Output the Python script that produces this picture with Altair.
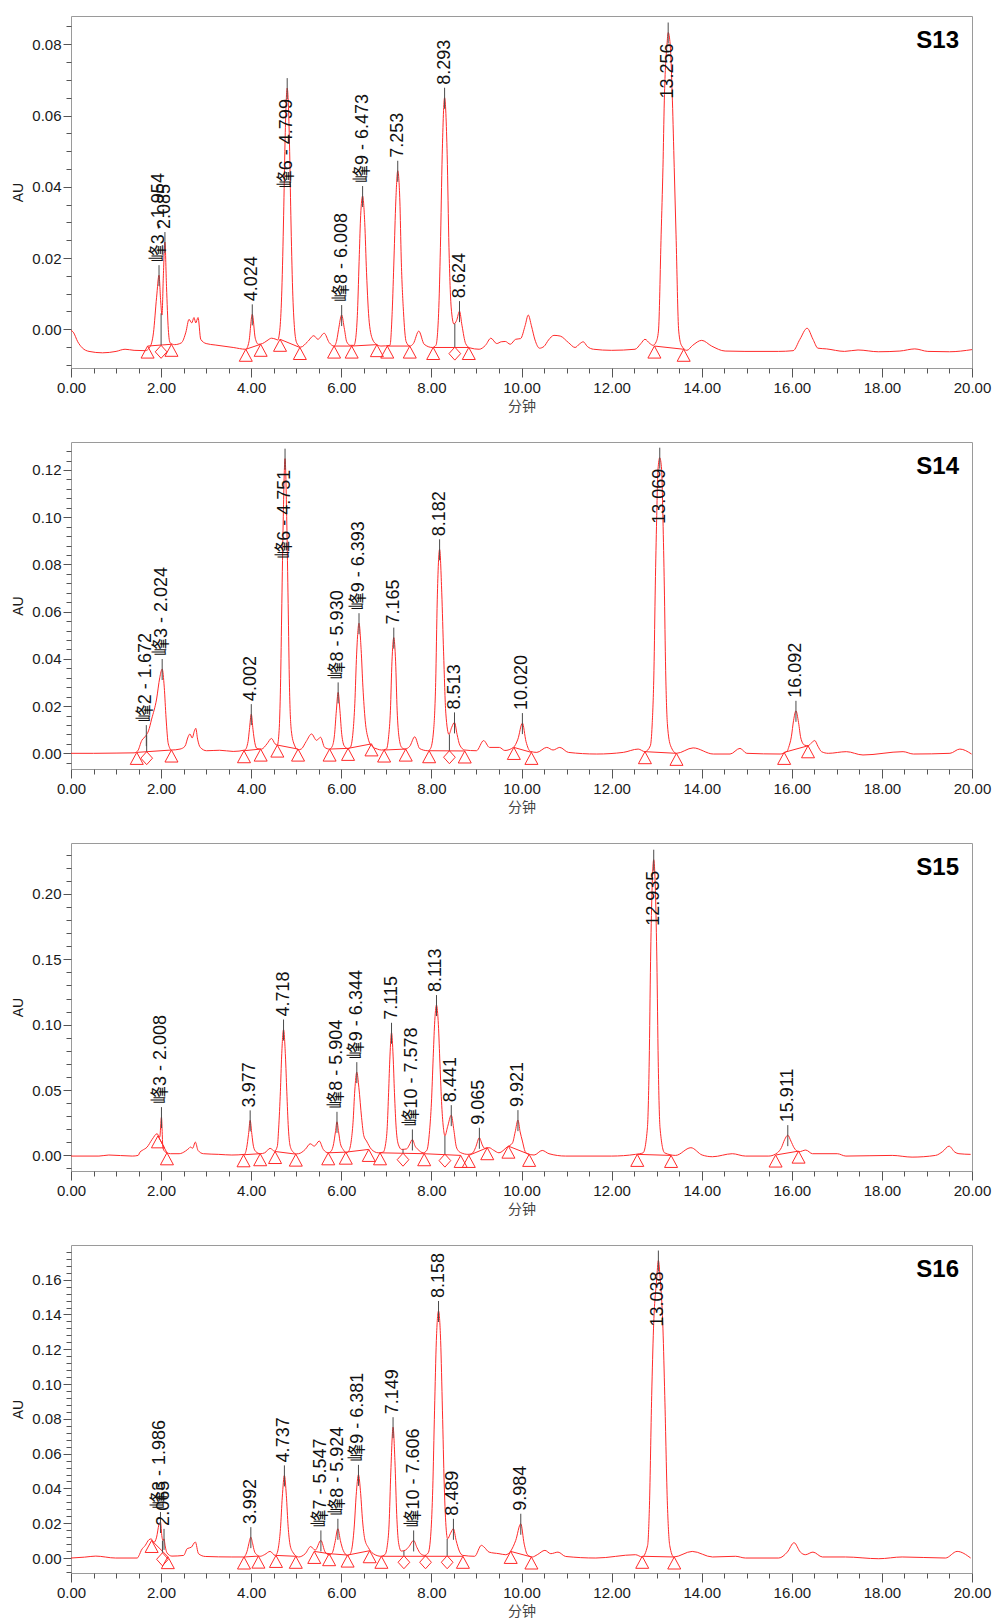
import altair as alt
import pandas as pd

FONT = "Liberation Sans, Arial, Noto Sans CJK SC, sans-serif"
CJK = "Noto Sans CJK SC, sans-serif"
RED = "#ff2a2a"
DARK = "#4a4a4a"

# ---------------- S13 ----------------
S13_TRACE = [
    (0.00, -0.0003), (0.05, -0.0008), (0.15, -0.0035), (0.25, -0.0052), (0.40, -0.0062), (0.70, -0.0066),
    (1.00, -0.0062), (1.20, -0.0056), (1.40, -0.0059), (1.65, -0.0060), (1.75, -0.0050), (1.83, -0.0010),
    (1.90, 0.0090), (1.954, 0.0152), (1.99, 0.0080), (2.02, 0.0040), (2.05, 0.0150), (2.085, 0.0245),
    (2.12, 0.0120), (2.16, 0.0000), (2.20, -0.0038), (2.30, -0.0043), (2.45, -0.0038), (2.55, -0.0008),
    (2.62, 0.0028), (2.68, 0.0018), (2.73, 0.0033), (2.77, 0.0018), (2.82, 0.0033), (2.88, -0.0028),
    (3.00, -0.0040), (3.20, -0.0044), (3.60, -0.0051), (3.88, -0.0056), (3.95, -0.0035), (4.024, 0.0042),
    (4.09, -0.0025), (4.16, -0.0042), (4.25, -0.0040), (4.35, -0.0032), (4.45, -0.0025), (4.55, -0.0028),
    (4.59, -0.0030), (4.64, 0.0005), (4.68, 0.0110), (4.72, 0.0320), (4.75, 0.0520), (4.799, 0.0677),
    (4.85, 0.0520), (4.88, 0.0320), (4.92, 0.0110), (4.96, 0.0005), (5.01, -0.0038), (5.10, -0.0050),
    (5.25, -0.0035), (5.39, -0.0018), (5.48, -0.0028), (5.62, -0.0011), (5.73, -0.0037), (5.84, -0.0047),
    (5.90, -0.0030), (5.94, 0.0000), (6.008, 0.0040), (6.07, 0.0000), (6.12, -0.0035), (6.20, -0.0045),
    (6.28, -0.0045), (6.30, -0.0040), (6.36, 0.0050), (6.40, 0.0210), (6.43, 0.0320), (6.473, 0.0374),
    (6.52, 0.0300), (6.56, 0.0160), (6.62, 0.0020), (6.70, -0.0030), (6.78, -0.0042), (6.88, -0.0047),
    (7.08, -0.0045), (7.13, 0.0050), (7.17, 0.0200), (7.21, 0.0360), (7.253, 0.0445), (7.30, 0.0360),
    (7.33, 0.0200), (7.38, 0.0050), (7.44, -0.0035), (7.52, -0.0047), (7.60, -0.0040), (7.72, -0.0005),
    (7.84, -0.0042), (8.02, -0.0051), (8.10, -0.0045), (8.16, 0.0045), (8.20, 0.0230), (8.24, 0.0490),
    (8.293, 0.0650), (8.35, 0.0490), (8.39, 0.0230), (8.44, 0.0060), (8.50, 0.0015), (8.56, 0.0025),
    (8.624, 0.0051), (8.68, 0.0010), (8.76, -0.0040), (8.85, -0.0052), (9.06, -0.0056), (9.20, -0.0045),
    (9.32, -0.0025), (9.45, -0.0040), (9.55, -0.0035), (9.64, -0.0034), (9.75, -0.0042), (9.87, -0.0028),
    (9.98, -0.0026), (10.08, 0.0010), (10.15, 0.0040), (10.22, 0.0010), (10.30, -0.0030), (10.40, -0.0053),
    (10.50, -0.0048), (10.60, -0.0030), (10.72, -0.0017), (10.86, -0.0019), (11.04, -0.0037), (11.19, -0.0051),
    (11.28, -0.0042), (11.37, -0.0035), (11.46, -0.0048), (11.60, -0.0056), (12.00, -0.0059), (12.52, -0.0056),
    (12.65, -0.0040), (12.74, -0.0028), (12.85, -0.0040), (12.92, -0.0045), (12.99, -0.0035), (13.04, -0.0005),
    (13.10, 0.0267), (13.14, 0.0454), (13.17, 0.0641), (13.23, 0.0800), (13.256, 0.0833), (13.30, 0.0800),
    (13.35, 0.0641), (13.39, 0.0454), (13.43, 0.0267), (13.49, -0.0005), (13.55, -0.0045), (13.67, -0.0059),
    (13.80, -0.0045), (14.00, -0.0031), (14.22, -0.0047), (14.52, -0.0061), (14.96, -0.0062), (15.70, -0.0062),
    (16.03, -0.0060), (16.18, -0.0028), (16.34, 0.0003), (16.47, -0.0028), (16.58, -0.0053), (16.77, -0.0055),
    (17.17, -0.0062), (17.47, -0.0058), (17.92, -0.0063), (18.40, -0.0061), (18.73, -0.0055), (19.02, -0.0062),
    (19.50, -0.0063), (20.00, -0.0057),
]
S13_PEAKS = [
    ("峰3 - 1.954", 1.954, 0.0152), ("2.085", 2.085, 0.0245), ("4.024", 4.024, 0.0042),
    ("峰6 - 4.799", 4.799, 0.0677), ("峰8 - 6.008", 6.008, 0.0040), ("峰9 - 6.473", 6.473, 0.0374),
    ("7.253", 7.253, 0.0445), ("8.293", 8.293, 0.0650), ("8.624", 8.624, 0.0051), ("13.256", 13.256, 0.0833),
]
S13_MARKS = [
    (1.70, -0.0047, "tri"), (2.00, -0.0045, "dia"), (2.23, -0.0042, "tri"), (3.88, -0.0056, "tri"),
    (4.21, -0.0042, "tri"), (4.64, -0.0028, "tri"), (5.08, -0.0051, "tri"), (5.84, -0.0047, "tri"),
    (6.23, -0.0047, "tri"), (6.79, -0.0043, "tri"), (7.02, -0.0047, "tri"), (7.52, -0.0047, "tri"),
    (8.04, -0.0051, "tri"), (8.52, -0.0050, "dia"), (8.83, -0.0051, "tri"), (12.95, -0.0047, "tri"),
    (13.60, -0.0056, "tri"),
]
S13_BASELINES = [(1.70, 2.23), (3.88, 4.21), (4.64, 5.08), (5.84, 6.23), (6.23, 6.79), (7.02, 7.52),
                 (8.04, 8.83), (12.95, 13.60)]
S13_DROPS = [(2.00, 0.0045), (8.52, 0.0016)]

# ---------------- S14 ----------------
S14_TRACE = [
    (0.00, 0.0000), (0.50, 0.0000), (1.00, 0.0001), (1.40, 0.0002), (1.48, 0.0010), (1.57, 0.0054),
    (1.672, 0.0077), (1.72, 0.0095), (1.79, 0.0145), (1.90, 0.0230), (1.97, 0.0320), (2.024, 0.0357),
    (2.07, 0.0280), (2.11, 0.0150), (2.16, 0.0040), (2.23, 0.0014), (2.42, 0.0018), (2.53, 0.0030),
    (2.60, 0.0070), (2.64, 0.0082), (2.69, 0.0065), (2.74, 0.0095), (2.77, 0.0106), (2.81, 0.0060),
    (2.87, 0.0025), (3.01, 0.0011), (3.30, 0.0013), (3.60, 0.0008), (3.86, 0.0014), (3.93, 0.0050),
    (3.96, 0.0100), (4.002, 0.0166), (4.04, 0.0100), (4.08, 0.0045), (4.13, 0.0020), (4.23, 0.0018),
    (4.35, 0.0040), (4.45, 0.0063), (4.53, 0.0040), (4.58, 0.0035), (4.62, 0.0097), (4.65, 0.0280),
    (4.68, 0.0635), (4.71, 0.0980), (4.751, 0.1248), (4.79, 0.0980), (4.82, 0.0635), (4.85, 0.0280),
    (4.89, 0.0097), (4.96, 0.0035), (5.04, 0.0015), (5.11, 0.0018), (5.22, 0.0050), (5.34, 0.0082),
    (5.45, 0.0055), (5.54, 0.0068), (5.63, 0.0025), (5.74, 0.0018), (5.80, 0.0030), (5.85, 0.0080),
    (5.89, 0.0180), (5.930, 0.0258), (5.97, 0.0180), (6.01, 0.0080), (6.07, 0.0030), (6.15, 0.0020),
    (6.20, 0.0025), (6.26, 0.0090), (6.30, 0.0210), (6.34, 0.0420), (6.393, 0.0551), (6.44, 0.0440),
    (6.48, 0.0280), (6.53, 0.0140), (6.60, 0.0060), (6.68, 0.0030), (6.80, 0.0018), (6.89, 0.0014),
    (7.00, 0.0018), (7.05, 0.0070), (7.09, 0.0180), (7.125, 0.0390), (7.165, 0.0490), (7.205, 0.0390),
    (7.24, 0.0180), (7.28, 0.0070), (7.34, 0.0025), (7.41, 0.0018), (7.52, 0.0030), (7.63, 0.0070),
    (7.74, 0.0020), (7.92, 0.0011), (7.98, 0.0020), (8.05, 0.0100), (8.095, 0.0300), (8.13, 0.0650),
    (8.182, 0.0864), (8.23, 0.0680), (8.27, 0.0430), (8.32, 0.0170), (8.39, 0.0080), (8.45, 0.0110),
    (8.513, 0.0131), (8.57, 0.0080), (8.63, 0.0035), (8.74, 0.0014), (9.00, 0.0011), (9.16, 0.0054),
    (9.29, 0.0025), (9.51, 0.0025), (9.63, 0.0012), (9.82, 0.0025), (9.92, 0.0060), (10.020, 0.0128),
    (10.10, 0.0050), (10.20, 0.0008), (10.34, 0.0004), (10.56, 0.0025), (10.70, 0.0014), (10.85, 0.0025),
    (11.04, 0.0004), (11.67, -0.0003), (12.26, 0.0004), (12.59, 0.0018), (12.74, 0.0007), (12.86, 0.0032),
    (12.90, 0.0120), (12.94, 0.0350), (12.97, 0.0709), (13.00, 0.0991), (13.03, 0.1203), (13.069, 0.1252),
    (13.11, 0.1203), (13.14, 0.0991), (13.17, 0.0709), (13.20, 0.0350), (13.24, 0.0120), (13.31, 0.0032),
    (13.44, 0.0000), (13.81, 0.0023), (14.26, -0.0003), (14.63, -0.0003), (14.85, 0.0021), (15.00, 0.0000),
    (15.74, -0.0003), (15.90, 0.0010), (15.93, 0.0025), (15.99, 0.0070), (16.04, 0.0140), (16.092, 0.0180),
    (16.15, 0.0130), (16.20, 0.0065), (16.28, 0.0035), (16.36, 0.0032), (16.44, 0.0045), (16.51, 0.0054),
    (16.58, 0.0030), (16.66, 0.0007), (16.81, 0.0000), (17.21, 0.0007), (17.58, -0.0007), (18.47, 0.0007),
    (18.70, -0.0003), (19.51, 0.0000), (19.73, 0.0018), (19.99, -0.0003),
]
S14_PEAKS = [
    ("峰2 - 1.672", 1.672, 0.0077), ("峰3 - 2.024", 2.024, 0.0357), ("4.002", 4.002, 0.0166),
    ("峰6 - 4.751", 4.751, 0.1248), ("峰8 - 5.930", 5.930, 0.0258), ("峰9 - 6.393", 6.393, 0.0551),
    ("7.165", 7.165, 0.0490), ("8.182", 8.182, 0.0864), ("8.513", 8.513, 0.0131), ("10.020", 10.020, 0.0128),
    ("13.069", 13.069, 0.1252), ("16.092", 16.092, 0.0180),
]
S14_MARKS = [
    (1.46, 0.0004, "tri"), (1.68, 0.0007, "dia"), (2.23, 0.0014, "tri"), (3.84, 0.0011, "tri"),
    (4.21, 0.0018, "tri"), (4.58, 0.0035, "tri"), (5.04, 0.0018, "tri"), (5.74, 0.0018, "tri"),
    (6.15, 0.0021, "tri"), (6.67, 0.0040, "tri"), (6.95, 0.0014, "tri"), (7.43, 0.0018, "tri"),
    (7.95, 0.0011, "tri"), (8.40, 0.0011, "dia"), (8.74, 0.0010, "tri"), (9.83, 0.0025, "tri"),
    (10.22, 0.0004, "tri"), (12.74, 0.0007, "tri"), (13.44, 0.0000, "tri"), (15.83, 0.0004, "tri"),
    (16.36, 0.0032, "tri"),
]
S14_BASELINES = [(1.46, 2.23), (3.84, 4.21), (4.58, 5.04), (5.74, 6.15), (6.15, 6.67), (6.95, 7.43),
                 (7.95, 8.74), (9.83, 10.22), (12.74, 13.44), (15.83, 16.36)]
S14_DROPS = [(1.68, 0.0077), (8.40, 0.0080)]

# ---------------- S15 ----------------
S15_TRACE = [
    (0.00, -0.0005), (0.62, -0.0005), (0.84, 0.0003), (1.36, -0.0005), (1.49, 0.0000), (1.53, 0.0025),
    (1.58, 0.0038), (1.69, 0.0064), (1.80, 0.0122), (1.91, 0.0166), (1.97, 0.0140), (2.008, 0.0293),
    (2.04, 0.0060), (2.08, 0.0030), (2.13, 0.0020), (2.21, 0.0013), (2.40, 0.0013), (2.54, 0.0033),
    (2.62, 0.0055), (2.65, 0.0064), (2.70, 0.0055), (2.76, 0.0102), (2.82, 0.0038), (2.94, 0.0013),
    (3.28, 0.0008), (3.57, 0.0003), (3.85, 0.0008), (3.90, 0.0060), (3.94, 0.0160), (3.977, 0.0268),
    (4.015, 0.0160), (4.05, 0.0070), (4.10, 0.0030), (4.20, 0.0013), (4.30, 0.0020), (4.42, 0.0054),
    (4.52, 0.0033), (4.58, 0.0070), (4.61, 0.0210), (4.648, 0.0490), (4.676, 0.0760), (4.718, 0.0963),
    (4.76, 0.0760), (4.79, 0.0490), (4.825, 0.0210), (4.86, 0.0080), (4.92, 0.0030), (5.00, 0.0012),
    (5.05, 0.0013), (5.20, 0.0046), (5.31, 0.0089), (5.40, 0.0071), (5.51, 0.0110), (5.60, 0.0046),
    (5.71, 0.0020), (5.78, 0.0035), (5.83, 0.0090), (5.87, 0.0180), (5.904, 0.0257), (5.94, 0.0180),
    (5.98, 0.0090), (6.04, 0.0046), (6.12, 0.0020), (6.16, 0.0030), (6.22, 0.0110), (6.26, 0.0250),
    (6.30, 0.0500), (6.344, 0.0637), (6.39, 0.0520), (6.45, 0.0290), (6.50, 0.0150), (6.56, 0.0110),
    (6.67, 0.0046), (6.82, 0.0020), (6.93, 0.0025), (6.98, 0.0080), (7.02, 0.0220), (7.05, 0.0480),
    (7.08, 0.0760), (7.115, 0.0938), (7.15, 0.0760), (7.18, 0.0480), (7.22, 0.0200), (7.27, 0.0080),
    (7.34, 0.0046), (7.45, 0.0050), (7.51, 0.0080), (7.578, 0.0122), (7.64, 0.0070), (7.70, 0.0046),
    (7.82, 0.0020), (7.90, 0.0040), (7.96, 0.0190), (8.00, 0.0400), (8.04, 0.0750), (8.07, 0.1000),
    (8.113, 0.1150), (8.155, 0.1000), (8.19, 0.0700), (8.23, 0.0380), (8.27, 0.0200), (8.30, 0.0150),
    (8.36, 0.0220), (8.441, 0.0308), (8.50, 0.0190), (8.55, 0.0070), (8.60, 0.0035), (8.66, 0.0020),
    (8.81, 0.0008), (8.92, 0.0020), (8.98, 0.0060), (9.065, 0.0135), (9.13, 0.0080), (9.18, 0.0054),
    (9.28, 0.0059), (9.38, 0.0040), (9.50, 0.0020), (9.68, 0.0064), (9.80, 0.0095), (9.86, 0.0180),
    (9.921, 0.0270), (9.97, 0.0180), (10.02, 0.0110), (10.08, 0.0030), (10.13, 0.0013), (10.28, 0.0003),
    (10.46, 0.0038), (10.61, 0.0013), (10.98, -0.0005), (12.00, -0.0005), (12.53, 0.0008), (12.70, 0.0020),
    (12.795, 0.0211), (12.835, 0.0721), (12.865, 0.1485), (12.895, 0.1995), (12.935, 0.2262),
    (12.975, 0.1995), (13.005, 0.1485), (13.035, 0.0721), (13.075, 0.0211), (13.175, 0.0020),
    (13.42, 0.0000), (13.76, 0.0059), (14.01, 0.0003), (14.24, -0.0010), (14.68, 0.0013), (14.97, -0.0005),
    (15.49, -0.0005), (15.68, 0.0020), (15.77, 0.0060), (15.84, 0.0120), (15.911, 0.0155), (15.98, 0.0110),
    (16.05, 0.0059), (16.16, 0.0028), (16.31, 0.0041), (16.46, 0.0013), (17.01, 0.0013), (17.20, -0.0005),
    (18.23, 0.0000), (18.67, -0.0013), (19.19, 0.0000), (19.35, 0.0030), (19.49, 0.0071), (19.62, 0.0025),
    (19.71, 0.0013), (19.97, 0.0008),
]
S15_PEAKS = [
    ("峰3 - 2.008", 2.008, 0.0293), ("3.977", 3.977, 0.0268), ("4.718", 4.718, 0.0963),
    ("峰8 - 5.904", 5.904, 0.0257), ("峰9 - 6.344", 6.344, 0.0637), ("7.115", 7.115, 0.0938),
    ("峰10 - 7.578", 7.578, 0.0122), ("8.113", 8.113, 0.1150), ("8.441", 8.441, 0.0308),
    ("9.065", 9.065, 0.0135), ("9.921", 9.921, 0.0270), ("12.935", 12.935, 0.2262), ("15.911", 15.911, 0.0155),
]
S15_MARKS = [
    (1.93, 0.0150, "tri"), (2.13, 0.0020, "tri"), (3.83, 0.0005, "tri"), (4.20, 0.0013, "tri"),
    (4.53, 0.0030, "tri"), (4.99, 0.0010, "tri"), (5.71, 0.0020, "tri"), (6.10, 0.0025, "tri"),
    (6.61, 0.0046, "tri"), (6.86, 0.0020, "tri"), (7.37, 0.0017, "dia"), (7.84, 0.0013, "tri"),
    (8.30, 0.0010, "dia"), (8.65, 0.0000, "tri"), (8.83, 0.0000, "tri"), (9.24, 0.0059, "tri"),
    (9.71, 0.0071, "tri"), (10.17, 0.0008, "tri"), (12.57, 0.0008, "tri"), (13.32, 0.0000, "tri"),
    (15.64, 0.0003, "tri"), (16.15, 0.0033, "tri"),
]
S15_BASELINES = [(1.93, 2.13), (3.83, 4.20), (4.53, 4.99), (5.71, 6.10), (6.10, 6.61), (6.86, 7.84),
                 (7.84, 8.65), (8.83, 9.24), (9.71, 10.17), (12.57, 13.32), (15.64, 16.15)]
S15_DROPS = [(7.37, 0.0046), (8.30, 0.0150)]

# ---------------- S16 ----------------
S16_TRACE = [
    (0.00, 0.0000), (0.30, 0.0005), (0.55, 0.0011), (0.99, 0.0000), (1.47, 0.0000), (1.52, 0.0020),
    (1.56, 0.0044), (1.65, 0.0073), (1.73, 0.0105), (1.78, 0.0110), (1.84, 0.0090), (1.90, 0.0120),
    (1.95, 0.0190), (1.986, 0.0207), (2.02, 0.0120), (2.045, 0.0100), (2.065, 0.0110), (2.09, 0.0070),
    (2.13, 0.0030), (2.24, 0.0011), (2.50, 0.0015), (2.58, 0.0054), (2.67, 0.0062), (2.76, 0.0092),
    (2.83, 0.0025), (2.98, 0.0009), (3.57, 0.0006), (3.83, 0.0006), (3.87, 0.0015), (3.92, 0.0050),
    (3.95, 0.0085), (3.992, 0.0120), (4.03, 0.0085), (4.07, 0.0040), (4.12, 0.0020), (4.20, 0.0010),
    (4.30, 0.0020), (4.42, 0.0038), (4.53, 0.0015), (4.57, 0.0025), (4.61, 0.0070), (4.65, 0.0170),
    (4.69, 0.0350), (4.737, 0.0475), (4.78, 0.0360), (4.82, 0.0180), (4.86, 0.0080), (4.92, 0.0035),
    (5.05, 0.0006), (5.20, 0.0025), (5.32, 0.0066), (5.42, 0.0045), (5.547, 0.0101), (5.64, 0.0035),
    (5.73, 0.0018), (5.80, 0.0030), (5.86, 0.0090), (5.924, 0.0168), (5.98, 0.0100), (6.04, 0.0045),
    (6.14, 0.0015), (6.20, 0.0025), (6.25, 0.0080), (6.29, 0.0190), (6.33, 0.0360), (6.381, 0.0478),
    (6.43, 0.0370), (6.47, 0.0220), (6.52, 0.0110), (6.60, 0.0060), (6.71, 0.0025), (6.88, 0.0010),
    (6.97, 0.0020), (7.02, 0.0070), (7.06, 0.0190), (7.10, 0.0500), (7.149, 0.0752), (7.19, 0.0560),
    (7.23, 0.0250), (7.27, 0.0090), (7.33, 0.0040), (7.42, 0.0045), (7.50, 0.0065), (7.606, 0.0101),
    (7.68, 0.0060), (7.76, 0.0025), (7.85, 0.0015), (7.93, 0.0030), (7.99, 0.0150), (8.03, 0.0400),
    (8.07, 0.0850), (8.11, 0.1250), (8.158, 0.1420), (8.205, 0.1250), (8.245, 0.0850), (8.285, 0.0420),
    (8.33, 0.0160), (8.36, 0.0110), (8.42, 0.0140), (8.489, 0.0168), (8.55, 0.0100), (8.62, 0.0040),
    (8.70, 0.0015), (8.96, 0.0010), (9.11, 0.0073), (9.17, 0.0063), (9.28, 0.0034), (9.50, 0.0025),
    (9.65, 0.0019), (9.76, 0.0040), (9.87, 0.0100), (9.984, 0.0197), (10.06, 0.0080), (10.13, 0.0020),
    (10.24, 0.0006), (10.35, 0.0019), (10.52, 0.0044), (10.65, 0.0025), (10.81, 0.0034), (10.98, 0.0009),
    (11.65, 0.0000), (12.53, 0.0019), (12.68, 0.0006), (12.80, 0.0073), (12.84, 0.0300), (12.89, 0.0934),
    (12.93, 0.1317), (13.00, 0.1600), (13.038, 0.1710), (13.08, 0.1600), (13.14, 0.1317), (13.18, 0.0934),
    (13.24, 0.0300), (13.29, 0.0073), (13.38, 0.0006), (13.79, 0.0038), (14.24, 0.0006), (14.75, 0.0010),
    (14.97, 0.0000), (15.71, 0.0000), (15.90, 0.0034), (16.05, 0.0088), (16.19, 0.0034), (16.30, 0.0019),
    (16.47, 0.0034), (16.68, 0.0006), (17.19, 0.0006), (17.93, -0.0004), (18.45, 0.0006), (19.41, 0.0000),
    (19.67, 0.0038), (19.97, 0.0000),
]
S16_PEAKS = [
    ("峰3 - 1.986", 1.986, 0.0207), ("2.065", 2.065, 0.0110), ("3.992", 3.992, 0.0120),
    ("4.737", 4.737, 0.0475), ("峰7 - 5.547", 5.547, 0.0101), ("峰8 - 5.924", 5.924, 0.0168),
    ("峰9 - 6.381", 6.381, 0.0478), ("7.149", 7.149, 0.0752), ("峰10 - 7.606", 7.606, 0.0101),
    ("8.158", 8.158, 0.1420), ("8.489", 8.489, 0.0168), ("9.984", 9.984, 0.0197), ("13.038", 13.038, 0.1710),
]
S16_MARKS = [
    (1.79, 0.0101, "tri"), (2.03, 0.0030, "dia"), (2.15, 0.0008, "tri"), (3.84, 0.0006, "tri"),
    (4.16, 0.0011, "tri"), (4.55, 0.0015, "tri"), (4.99, 0.0010, "tri"), (5.40, 0.0038, "tri"),
    (5.73, 0.0025, "tri"), (6.14, 0.0017, "tri"), (6.63, 0.0042, "tri"), (6.89, 0.0010, "tri"),
    (7.39, 0.0013, "dia"), (7.87, 0.0013, "dia"), (8.35, 0.0013, "dia"), (8.70, 0.0010, "tri"),
    (9.76, 0.0038, "tri"), (10.22, 0.0006, "tri"), (12.68, 0.0010, "tri"), (13.39, 0.0006, "tri"),
]
S16_BASELINES = [(1.79, 2.15), (3.84, 4.16), (4.55, 4.99), (5.40, 5.73), (5.73, 6.14), (6.14, 6.63),
                 (6.89, 8.70), (9.76, 10.22), (12.68, 13.39)]
S16_DROPS = [(2.03, 0.0100), (7.39, 0.0042), (7.87, 0.0015), (8.35, 0.0110)]

# Panel layout: (name, data..., y-domain, plot height, minor tick step, labelled tick step)
PANELS = [
    ("S13", S13_TRACE, S13_PEAKS, S13_MARKS, S13_BASELINES, S13_DROPS, (-0.01086, 0.08794), 352, 0.005, 0.02),
    ("S14", S14_TRACE, S14_PEAKS, S14_MARKS, S14_BASELINES, S14_DROPS, (-0.00664, 0.13185), 327, 0.004, 0.02),
    ("S15", S15_TRACE, S15_PEAKS, S15_MARKS, S15_BASELINES, S15_DROPS, (-0.01192, 0.23898), 328, 0.01, 0.05),
    ("S16", S16_TRACE, S16_PEAKS, S16_MARKS, S16_BASELINES, S16_DROPS, (-0.00861, 0.17993), 328, 0.004, 0.02),
]

WIDTH = 901
LABEL_SIZE = 18
TICK_FONT = 15
TRI = "M0,0L1,1.85L-1,1.85Z"
DIA = "M0,0L0.9,1L0,2L-0.9,1Z"

EM = {".": 0.278, " ": 0.278, "-": 0.333}


def text_len(s, size):
    return sum((1.0 if ord(c) > 0x2E80 else EM.get(c, 0.556)) for c in s) * size


X_TICKS = [k * 0.5 for k in range(41)]
x_axis = alt.Axis(
    values=X_TICKS,
    labelExpr="datum.value % 2 == 0 ? format(datum.value, '.2f') : ''",
    tickSize={"condition": {"test": "datum.value % 2 == 0", "value": 9}, "value": 5},
    labelPadding=3, labelFlush=False, labelFont=FONT, labelFontSize=TICK_FONT, labelColor="#1a1a1a",
    title="分钟", titleFont=CJK, titleFontSize=14, titleFontWeight="normal", titleColor="#444444",
    titlePadding=4, tickColor="#555555", domain=False, grid=False,
)


def y_axis(ymin, ymax, minor, major):
    k0 = int(-(-ymin // minor))
    vals = []
    k = k0
    while k * minor <= ymax + 1e-12:
        vals.append(round(k * minor, 6))
        k += 1
    test = f"abs(datum.value / {major} - round(datum.value / {major})) < 1e-6"
    return alt.Axis(
        values=vals,
        labelExpr=f"{test} ? format(datum.value, '.2f') : ''",
        tickSize={"condition": {"test": test, "value": 8}, "value": 5},
        labelPadding=2, labelFont=FONT, labelFontSize=TICK_FONT, labelColor="#1a1a1a",
        title="AU", titleFont=FONT, titleFontSize=14, titleFontWeight="normal", titleColor="#1a1a1a",
        titlePadding=6, tickColor="#555555", domain=False, grid=False,
    )


def panel(name, trace, peaks, marks, baselines, drops, dom, height, minor, major):
    ymin, ymax = dom
    ppu = height / (ymax - ymin)
    x = alt.X("t:Q", scale=alt.Scale(domain=[0, 20], nice=False, zero=False), axis=x_axis)
    y = alt.Y("au:Q", scale=alt.Scale(domain=[ymin, ymax], nice=False, zero=False),
              axis=y_axis(ymin, ymax, minor, major))

    trace_df = pd.DataFrame(trace, columns=["t", "au"])
    line = alt.Chart(trace_df).mark_line(color=RED, strokeWidth=1, interpolate="monotone", clip=True).encode(x=x, y=y)

    mark_y = {t: a for t, a, _ in marks}
    base_df = pd.DataFrame({
        "t": [a for a, b in baselines], "au": [mark_y[a] for a, b in baselines],
        "t2": [b for a, b in baselines], "au2": [mark_y[b] for a, b in baselines],
    })
    base = alt.Chart(base_df).mark_rule(color=RED, strokeWidth=1).encode(x=x, y=y, x2="t2:Q", y2="au2:Q")

    drop_df = pd.DataFrame({"t": [t for t, _ in drops], "au": [mark_y[t] for t, _ in drops],
                            "au2": [top for _, top in drops]})
    drop = alt.Chart(drop_df).mark_rule(color=DARK, strokeWidth=1).encode(x=x, y=y, y2="au2:Q")

    mk_df = pd.DataFrame(marks, columns=["t", "au", "kind"])
    tri = alt.Chart(mk_df[mk_df.kind == "tri"]).mark_point(
        shape=TRI, size=169, filled=False, color=RED, strokeWidth=1, opacity=1).encode(x=x, y=y)
    dia = alt.Chart(mk_df[mk_df.kind == "dia"]).mark_point(
        shape=DIA, size=169, filled=False, color=RED, strokeWidth=1, opacity=1).encode(x=x, y=y)

    pk_df = pd.DataFrame(peaks, columns=["label", "t", "au"])
    ticks = alt.Chart(pk_df).mark_rule(color=DARK, strokeWidth=1, yOffset=-10, y2Offset=11).encode(
        x=x, y=y, y2="au:Q")

    # label start: just above the apex when it fits, otherwise hung below the apex
    label_y = []
    for lab, t, a in peaks:
        L = text_len(lab, LABEL_SIZE)
        room = (ymax - a) * ppu
        if room - 13 - L >= 2:
            label_y.append(a + 13 / ppu)
        else:
            label_y.append(a - (11 + L) / ppu)
    lab_df = pd.DataFrame({"t": pk_df.t, "au": label_y, "label": pk_df.label})
    labels = alt.Chart(lab_df).mark_text(
        angle=270, align="left", baseline="middle", font=FONT, fontSize=LABEL_SIZE, color="#111111"
    ).encode(x=x, y=y, text="label:N")

    title = alt.Chart(pd.DataFrame({"name": [name]})).mark_text(
        align="right", baseline="alphabetic", font=FONT, fontSize=24, fontWeight="bold", color="#000000"
    ).encode(x=alt.value(WIDTH - 13), y=alt.value(32), text="name:N")

    return alt.layer(line, base, drop, tri, dia, ticks, labels, title).properties(width=WIDTH, height=height)


chart = alt.vconcat(*[panel(*p) for p in PANELS], spacing=74, bounds="flush").properties(
    padding={"left": 11, "top": 15, "right": 0, "bottom": 5}
).configure_view(stroke="#9a9a9a", strokeWidth=1)

chart.save("out.html", embed_options={"renderer": "svg", "actions": False})
